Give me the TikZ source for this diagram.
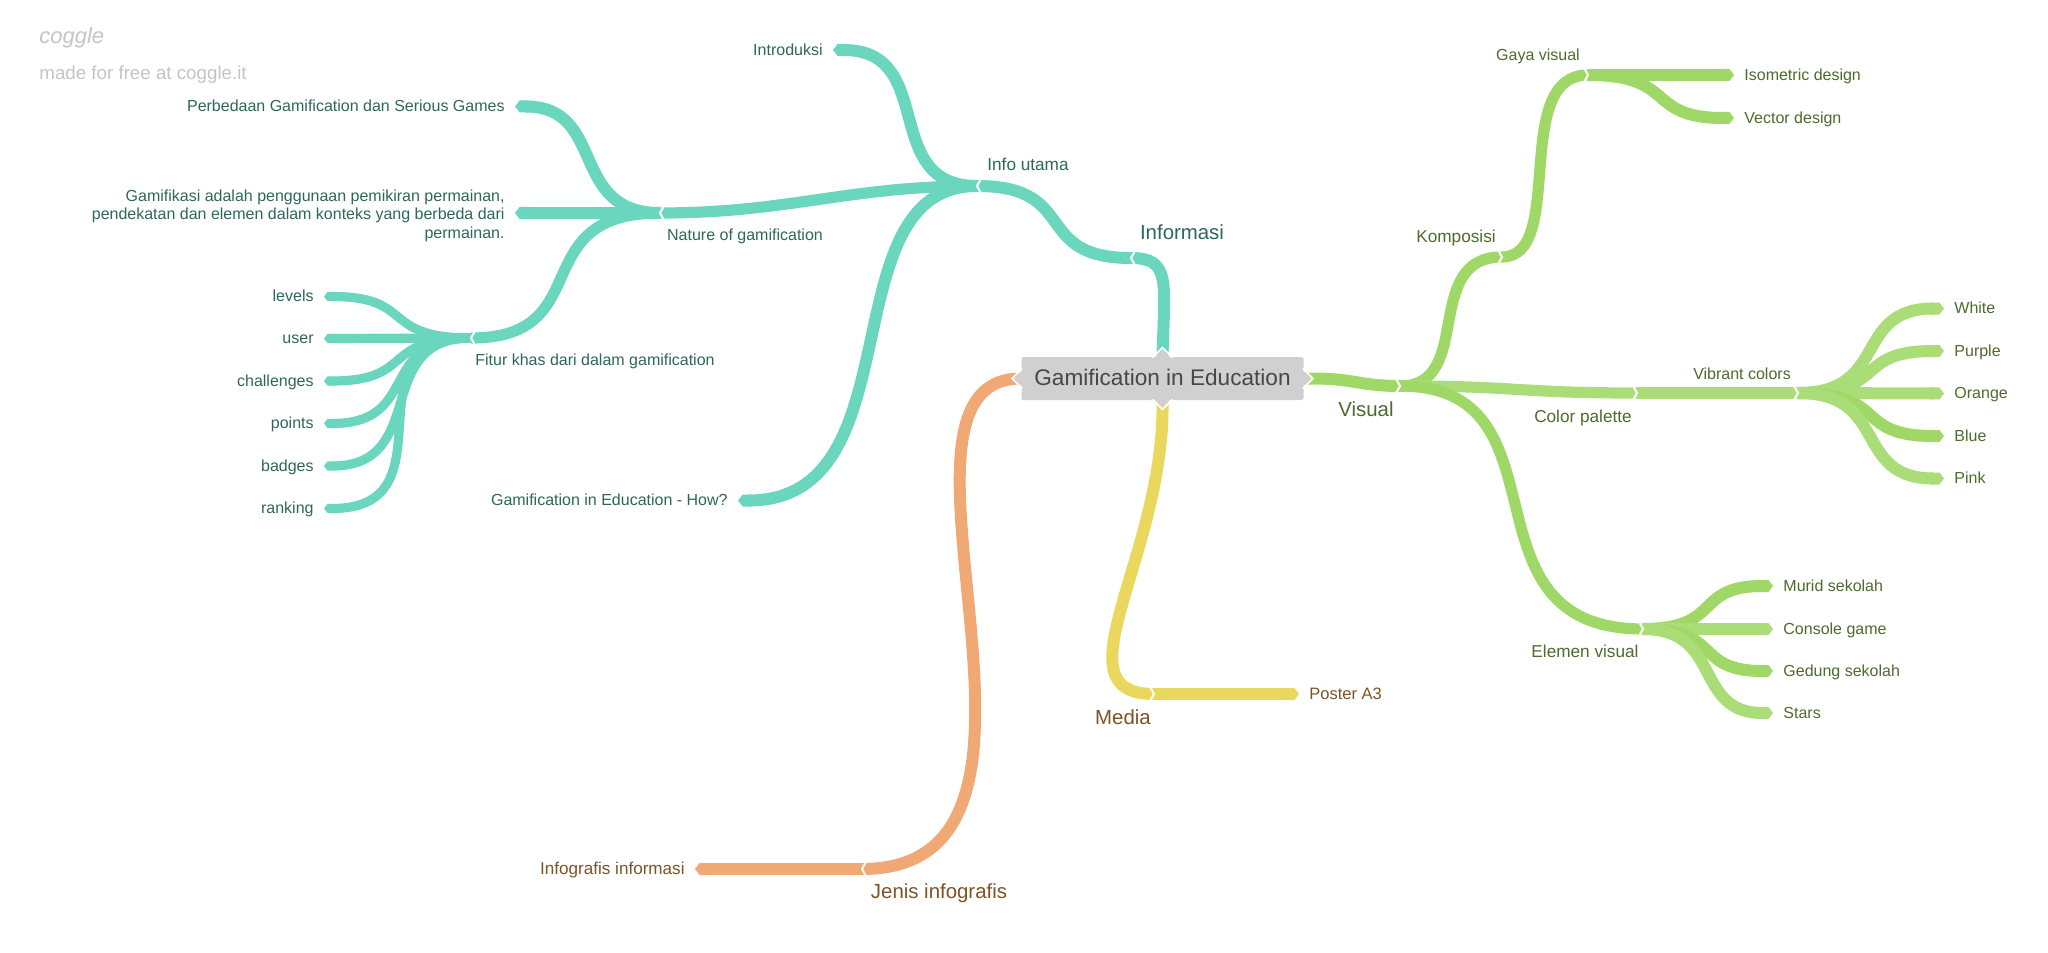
\documentclass[tikz,border=0pt]{standalone}
\usepackage{fontspec}
\setmainfont{Liberation Sans}
\usetikzlibrary{arrows.meta, calc}
\definecolor{cbTeal}  {RGB}{107,214,190}
\definecolor{cbOrange}{RGB}{240,168,116}
\definecolor{cbYellow}{RGB}{234,216,94}
\definecolor{cbGreen} {RGB}{160,216,104}
\definecolor{lGreen}  {RGB}{170,221,120}
\definecolor{dkTeal}  {RGB}{44,104,88}
\definecolor{dkGreen} {RGB}{78,106,44}
\definecolor{dkBrown} {RGB}{124,84,38}
\definecolor{boxGray} {RGB}{208,208,208}
\definecolor{markGray}{RGB}{196,196,196}
\tikzset{
  notch/.pic={\draw[white, line width=1pt] (5,-9) -- (0,0) -- (5,9);},
  rootTip/.pic={\fill[boxGray] (1,-8) -- (-7,0) -- (1,8) -- cycle; \draw[white, line width=0.9pt] (1,-10) -- (-9,0) -- (1,10);},
}
\begin{document}
\begin{tikzpicture}[x=0.5pt, y=-0.5pt,
    RIB/.style={line width=6pt, line cap=butt},
    MID/.style={line width=5.6pt},
    TIP/.style={line width=4.6pt, -{Triangle Cap[cap angle=105]}},
    TIPM/.style={line width=6pt, -{Triangle Cap[cap angle=105]}},
    big/.style={font=\fontsize{10.2}{12}\selectfont},
    mid/.style={font=\fontsize{8.6}{10}\selectfont},
    sml/.style={font=\fontsize{8}{9.2}\selectfont},
    leafL/.style={sml, anchor=mid east, inner xsep=5pt},
    leafR/.style={sml, anchor=mid west, inner xsep=5pt}]
    \useasboundingbox (0,0) rectangle (2048,952);
    \node[fill=boxGray, rounded corners=1pt, minimum width=141pt, minimum height=21.5pt, inner sep=0pt, text depth=1.5pt, font=\fontsize{11.3}{13}\selectfont, text=black!72] (root) at (1162.5,378.5) {Gamification in Education};
    \node[anchor=west, text=markGray, font=\fontsize{11}{13}\itshape\selectfont, inner sep=0pt] (brand) at (39,38) {coggle};
    \node[anchor=west, text=markGray, font=\fontsize{9.37}{11}\selectfont, inner sep=0pt] (made) at (39,75) {made for free at coggle.it};
    \coordinate (jInformasi) at (1131,258); \coordinate (jUtama) at (977,186); \coordinate (jNature) at (660,213); \coordinate (jFitur) at (471,338);
    \coordinate (jVisual) at (1400,386); \coordinate (jKomposisi) at (1502,257); \coordinate (jGaya) at (1588,75); \coordinate (jColor) at (1637,393); \coordinate (jVibrant) at (1798,393); \coordinate (jElemen) at (1643,629);
    \coordinate (jMedia) at (1154,694); \coordinate (jJenis) at (862,869);
    \node[big, text=dkTeal] (lInformasi) at (1182,232) {Informasi};
    \node[mid, text=dkTeal] (lUtama) at (1028,164) {Info utama};
    \node[sml, text=dkTeal] (lNature) at (745,236.5) {Nature of gamification};
    \node[sml, text=dkTeal] (lFitur) at (595,361.5) {Fitur khas dari dalam gamification};
    \node[leafL, text=dkTeal] (tIntro) at (833,50) {Introduksi};
    \node[leafL, text=dkTeal] (tBeda) at (515,106.5) {Perbedaan Gamification dan Serious Games};
    \node[sml, anchor=east, align=right, inner xsep=5pt, text=dkTeal] (tGamifikasi) at (515,215.5) {Gamifikasi adalah penggunaan pemikiran permainan,\\pendekatan dan elemen dalam konteks yang berbeda dari\\permainan.};
    \node[leafL, text=dkTeal] (tHow) at (738,500.5) {Gamification in Education - How?};
    \node[leafL, text=dkTeal] (tLevels) at (324,296.5) {levels};
    \node[leafL, text=dkTeal] (tUser) at (324,338.5) {user};
    \node[leafL, text=dkTeal] (tChallenges) at (324,381) {challenges};
    \node[leafL, text=dkTeal] (tPoints) at (324,423.5) {points};
    \node[leafL, text=dkTeal] (tBadges) at (324,466) {badges};
    \node[leafL, text=dkTeal] (tRanking) at (324,508.5) {ranking};
    \node[big, text=dkGreen] (lVisual) at (1366,409) {Visual};
    \node[mid, text=dkGreen] (lKomposisi) at (1456,238) {Komposisi};
    \node[sml, text=dkGreen] (lGaya) at (1538,56) {Gaya visual};
    \node[mid, text=dkGreen] (lColor) at (1583,418) {Color palette};
    \node[sml, text=dkGreen] (lVibrant) at (1742,373.5) {Vibrant colors};
    \node[mid, text=dkGreen] (lElemen) at (1585,651) {Elemen visual};
    \node[leafR, text=dkGreen] (tIso) at (1734,75) {Isometric design};
    \node[leafR, text=dkGreen] (tVector) at (1734,118) {Vector design};
    \node[leafR, text=dkGreen] (tWhite) at (1944,308.5) {White};
    \node[leafR, text=dkGreen] (tPurple) at (1944,351) {Purple};
    \node[leafR, text=dkGreen] (tOrange) at (1944,393.5) {Orange};
    \node[leafR, text=dkGreen] (tBlue) at (1944,436) {Blue};
    \node[leafR, text=dkGreen] (tPink) at (1944,478.5) {Pink};
    \node[leafR, text=dkGreen] (tMurid) at (1773,586) {Murid sekolah};
    \node[leafR, text=dkGreen] (tConsole) at (1773,629) {Console game};
    \node[leafR, text=dkGreen] (tGedung) at (1773,671) {Gedung sekolah};
    \node[leafR, text=dkGreen] (tStars) at (1773,713) {Stars};
    \node[big, text=dkBrown] (lMedia) at (1123,717) {Media};
    \node[leafR, font=\fontsize{8.25}{10}\selectfont, text=dkBrown] (tPoster) at (1299,694) {Poster A3};
    \node[big, text=dkBrown] (lJenis) at (939,893) {Jenis infografis};
    \node[leafL, font=\fontsize{8.55}{10}\selectfont, text=dkBrown] (tInfografis) at (695,869) {Infografis informasi};
    \draw[RIB, cbTeal] (root.north) .. controls +(2,-75) and +(40,0) .. (jInformasi);
    \draw[RIB, cbTeal] (jInformasi) .. controls +(-100,0) and +(103,0) .. (jUtama);
    \draw[TIPM, cbTeal] (jUtama) .. controls +(-98,0) and +(105,0) .. (tIntro.mid east);
    \draw[MID, cbTeal] (jUtama) .. controls +(-130,0) and +(130,0) .. (jNature);
    \draw[TIPM, cbTeal] (jUtama) .. controls +(-150,0) and +(180,0) .. (tHow.mid east);
    \draw[TIPM, cbTeal] (jNature) .. controls +(-92,0) and +(92,0) .. (tBeda.mid east);
    \draw[TIPM, cbTeal] (jNature) -- (jNature -| tGamifikasi.east);
    \draw[MID, cbTeal] (jNature) .. controls +(-137,0) and +(128,0) .. (jFitur);
    \draw[TIP, cbTeal] (jFitur) .. controls +(-92,0) and +(92,0) .. (tLevels.mid east);
    \draw[TIP, cbTeal] (jFitur) -- (tUser.mid east);
    \draw[TIP, cbTeal] (jFitur) .. controls +(-92,0) and +(92,0) .. (tChallenges.mid east);
    \draw[TIP, cbTeal] (jFitur) .. controls +(-95,0) and +(98,0) .. (tPoints.mid east);
    \draw[TIP, cbTeal] (jFitur) .. controls +(-100,0) and +(106,0) .. (tBadges.mid east);
    \draw[TIP, cbTeal] (jFitur) .. controls +(-130,0) and +(133,0) .. (tRanking.mid east);
    \draw[RIB, cbGreen] (root.east) -- ++(10,0) .. controls +(40,0) and +(-40,0) .. (jVisual);
    \draw[MID, cbGreen] (jVisual) .. controls +(75,0) and +(-81,0) .. (jKomposisi);
    \draw[MID, cbGreen] (jKomposisi) .. controls +(65,0) and +(-78,0) .. (jGaya);
    \draw[TIPM, cbGreen] (jGaya) -- (tIso.mid west);
    \draw[TIPM, cbGreen] (jGaya) .. controls +(90,0) and +(-90,0) .. (tVector.mid west);
    \draw[MID, lGreen] (jVisual) .. controls +(120,0) and +(-120,0) .. (jColor);
    \draw[MID, cbGreen] (jVisual) .. controls +(175,0) and +(-190,0) .. (jElemen);
    \draw[MID, lGreen] (jColor) -- (jVibrant);
    \draw[TIPM, lGreen] (jVibrant) .. controls +(92,0) and +(-92,0) .. (tWhite.mid west);
    \draw[TIPM, lGreen] (jVibrant) .. controls +(92,0) and +(-92,0) .. (tPurple.mid west);
    \draw[TIPM, lGreen] (jVibrant) -- (tOrange.mid west);
    \draw[TIPM, cbGreen] (jVibrant) .. controls +(92,0) and +(-92,0) .. (tBlue.mid west);
    \draw[TIPM, lGreen] (jVibrant) .. controls +(92,0) and +(-92,0) .. (tPink.mid west);
    \draw[TIPM, cbGreen] (jElemen) .. controls +(80,0) and +(-80,0) .. (tMurid.mid west);
    \draw[TIPM, lGreen] (jElemen) -- (tConsole.mid west);
    \draw[TIPM, cbGreen] (jElemen) .. controls +(80,0) and +(-80,0) .. (tGedung.mid west);
    \draw[TIPM, lGreen] (jElemen) .. controls +(80,0) and +(-80,0) .. (tStars.mid west);
    \draw[RIB, cbYellow] (root.south) .. controls +(3,155) and +(-100,0) .. (jMedia);
    \draw[TIPM, cbYellow] (jMedia) -- (tPoster.mid west);
    \draw[RIB, cbOrange] (root.west) .. controls +(-165,0) and +(242,0) .. (jJenis);
    \draw[TIPM, cbOrange] (jJenis) -- (tInfografis.mid east);
    \foreach \j in {jInformasi,jUtama,jNature,jFitur,jJenis} \pic at (\j) {notch};
    \foreach \j in {jVisual,jKomposisi,jGaya,jColor,jVibrant,jElemen,jMedia} \pic[rotate=180] at (\j) {notch};
    \pic at (root.west) {rootTip};
    \pic[rotate=180] at (root.east) {rootTip};
    \pic[rotate=-90] at (root.north) {rootTip};
    \pic[rotate=90] at (root.south) {rootTip};
\end{tikzpicture}
\end{document}
